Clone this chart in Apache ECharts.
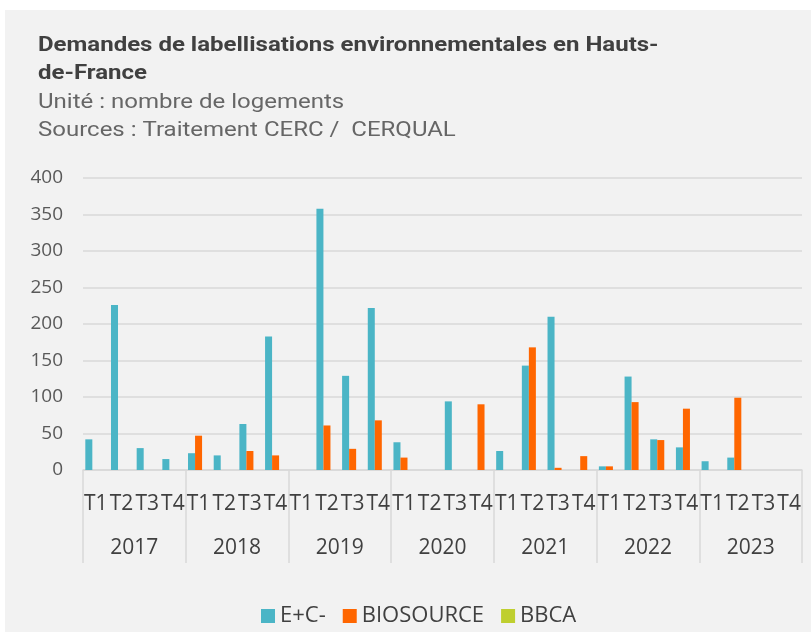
<!DOCTYPE html>
<html><head><meta charset="utf-8">
<script src="https://cdn.jsdelivr.net/npm/echarts@6/dist/echarts.min.js"></script>
<style>html,body{margin:0;padding:0;background:#fff}#c{width:811px;height:632px}</style>
</head><body><div id="c"></div>
<script>
const years = ['2017','2018','2019','2020','2021','2022','2023'];
const quarters = ['T1','T2','T3','T4'];
const categories = [];
years.forEach(y => quarters.forEach(q => categories.push(q)));
const yTicks = {min: 0, max: 400, interval: 50};
const ecPlus = [42,226,30,15, 23,20,63,183, 0,358,129,222, 38,0,94,0, 26,143,210,0, 5,128,42,31, 12,17,0,0];
const biosource = [0,0,0,0, 47,0,26,20, 0,61,29,68, 17,0,0,90, 0,168,3,19, 5,93,41,84, 0,99,0,0];
const bbca = [0,0,0,0, 0,0,0,0, 0,0,0,0, 0,0,0,0, 0,0,0,0, 0,0,0,0, 0,0,0,0];
const seriesNames = ['E+C-','BIOSOURCE','BBCA'];
const colors = ['#4bb5c6','#ff6600','#bfcf2f'];

const FONT = 'Open Sans';
const TFONT = 'Roboto';
const chart = echarts.init(document.getElementById('c'));
chart.setOption({
  animation: false,
  textStyle: {fontFamily: FONT},
  graphic: [
    {type:'rect', z:-10, shape:{x:5,y:10,width:806,height:622}, style:{fill:'#f2f2f2'}},
    {type:'text', x:38, y:32, scaleX:1.2, style:{text:'Demandes de labellisations environnementales en Hauts-\nde-France', font:'bold 20px '+TFONT, fill:'#404040', lineHeight:28}},
    {type:'text', x:38, y:89, scaleX:1.2, style:{text:'Unité : nombre de logements\nSources : Traitement CERC /  CERQUAL', font:'20px '+TFONT, fill:'#666666', lineHeight:28}}
  ],
  legend: {
    left: 256, top: 600, icon: 'rect', itemWidth: 14, itemHeight: 14, itemGap: 17,
    textStyle: {fontSize: 22, color: '#404040', fontFamily: FONT},
    data: seriesNames
  },
  grid: {left: 83, right: 9, top: 178, bottom: 162},
  xAxis: [
    {type:'category', data: categories, position:'bottom',
     axisLine:{show:true, lineStyle:{color:'#d9d9d9', width:1.5}},
     axisTick:{show:false},
     axisLabel:{interval:0, margin:24, fontSize:21, color:'#404040', fontFamily: FONT}},
    {type:'category', data: years, position:'bottom',
     axisLine:{show:false},
     axisTick:{show:true, length:93, lineStyle:{color:'#d9d9d9', width:1.5}},
     axisLabel:{interval:0, margin:68, fontSize:21, color:'#404040', fontFamily: FONT}}
  ],
  yAxis: {type:'value', min: yTicks.min, max: yTicks.max, interval: yTicks.interval,
    axisLine:{show:false}, axisTick:{show:false},
    axisLabel:{margin:20, fontSize:19, color:'#595959', fontFamily: FONT},
    splitLine:{lineStyle:{color:'#d9d9d9', width:1.5}}},
  series: [
    {name: seriesNames[0], type:'bar', data: ecPlus, itemStyle:{color:colors[0]}, barGap:'0%', barCategoryGap:'18%'},
    {name: seriesNames[1], type:'bar', data: biosource, itemStyle:{color:colors[1]}, barGap:'0%', barCategoryGap:'18%'},
    {name: seriesNames[2], type:'bar', data: bbca, itemStyle:{color:colors[2]}, barGap:'0%', barCategoryGap:'18%'}
  ]
});
</script></body></html>
